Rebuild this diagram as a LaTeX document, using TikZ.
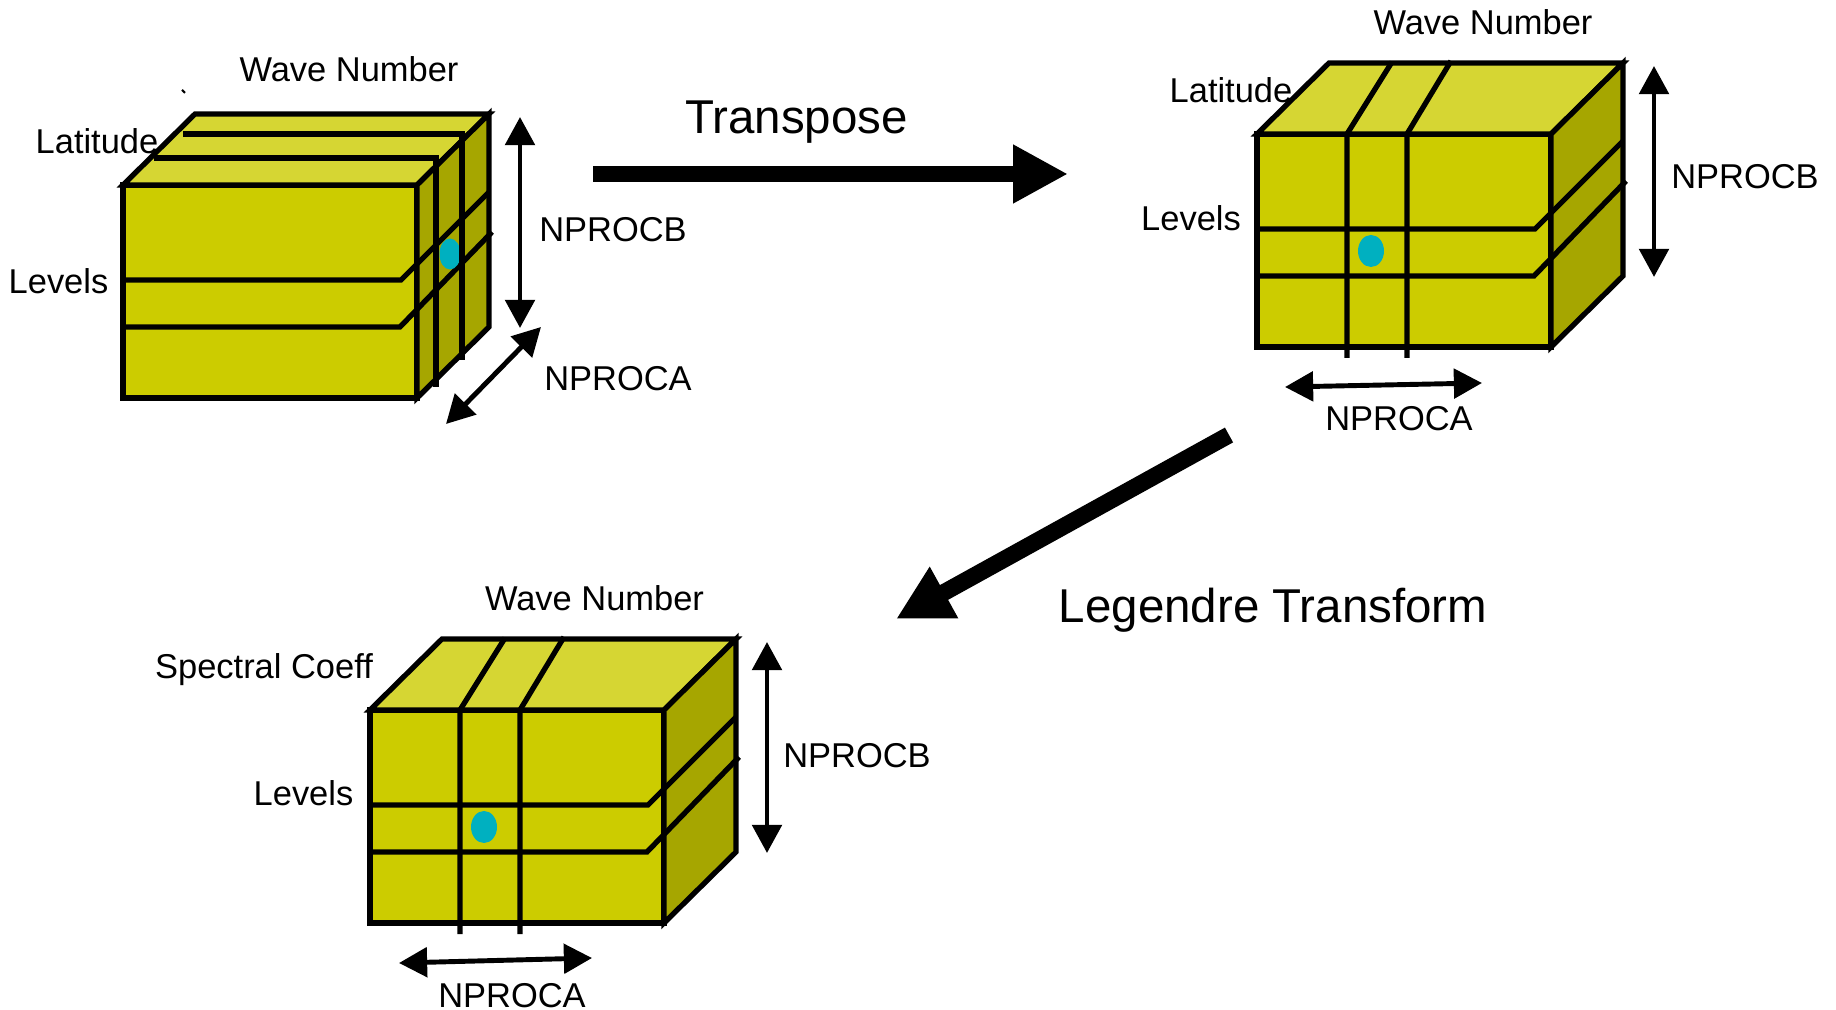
\documentclass[tikz,border=0pt]{standalone}
\usepackage{fontspec}
\setmainfont{Liberation Sans}
\usetikzlibrary{positioning,arrows.meta}

\definecolor{boxfront}{RGB}{204,204,0}
\definecolor{boxtop}{RGB}{214,214,51}
\definecolor{boxside}{RGB}{166,166,0}
\definecolor{procdot}{RGB}{0,176,192}

\begin{document}
\begin{tikzpicture}[x=0.01cm, y=-0.01cm,
        lbl/.style = {font=\fontsize{9.8}{11}\selectfont, inner sep=0pt, text height=7pt, text depth=0pt},
        steplabel/.style = {font=\fontsize{13.5}{16}\selectfont, inner sep=0pt, text height=9.7pt, text depth=0pt},
        boxedge/.style = {draw=black, line width=1.5pt, line join=miter},
        slice/.style = {line width=1.5pt},
        nproc/.style = {line width=1.4pt, {Triangle[length=8pt, width=8.3pt]}-{Triangle[length=8pt, width=8.3pt]}},
        bigarrow/.style = {line width=4.8pt, -{Triangle[length=15.6pt, width=15.6pt]}},
        % one processor block: front, top and side faces plus the two level cuts
        databox/.pic = {
            \filldraw[fill=boxfront, boxedge] (0,0) rectangle (294,213);
            \filldraw[fill=boxtop, boxedge] (0,0) -- (72,-71) -- (366,-71) -- (294,0) -- cycle;
            \filldraw[fill=boxside, boxedge] (294,0) -- (366,-71) -- (366,142) -- (294,213) -- cycle;
            \draw[slice] (0,95) -- (278,95) -- (366,7);
            \draw[slice] (-3,142) -- (277,142) -- (369,47);
            \coordinate (-btop) at (397,-68);
            \coordinate (-bbot) at (397,143);
        },
    ]
    \useasboundingbox (0,0) rectangle (1836,1010);

    % grid point space, split over latitudes
    \pic (c1) at (123,185) {databox};
    \begin{scope}[shift={(123,185)}]
        \fill[procdot] (327,69) ellipse [x radius=10.5, y radius=15.5];
        \draw[slice] (60,-51) -- (339,-51) -- (339,175);
        \draw[slice] (31,-27) -- (313,-27) -- (313,202);
    \end{scope}
    \draw[line width=0.6pt] (182,90) -- (185,93);

    % fourier space
    \pic (c2) at (1257,134) {databox};
    \begin{scope}[shift={(1257,134)}]
        \fill[procdot] (114,117) ellipse [x radius=13, y radius=16];
        \draw[slice] (135,-72) -- (90,0) -- (90,224);
        \draw[slice] (194,-73) -- (150,0) -- (150,224);
    \end{scope}

    % spectral space
    \pic (c3) at (370,710) {databox};
    \begin{scope}[shift={(370,710)}]
        \fill[procdot] (114,117) ellipse [x radius=13, y radius=16];
        \draw[slice] (135,-72) -- (90,0) -- (90,224);
        \draw[slice] (194,-73) -- (150,0) -- (150,224);
    \end{scope}

    % processor extents
    \coordinate (a1s) at (446,424);
    \coordinate (a1e) at (541,327);
    \coordinate (a2s) at (1285,387);
    \coordinate (a2e) at (1482,383);
    \coordinate (a3s) at (399,963);
    \coordinate (a3e) at (592,958);
    \draw[nproc] (c1-btop) -- (c1-bbot);
    \draw[nproc] (c2-btop) -- (c2-bbot);
    \draw[nproc] (c3-btop) -- (c3-bbot);
    \draw[nproc] (a1s) -- (a1e);
    \draw[nproc] (a2s) -- (a2e);
    \draw[nproc] (a3s) -- (a3e);

    % transform steps
    \coordinate (ts) at (593,174);
    \coordinate (te) at (1068,174);
    \coordinate (ls) at (1229,435);
    \coordinate (le) at (896,619);
    \draw[bigarrow] (ts) -- (te);
    \draw[bigarrow] (ls) -- (le);

    \node[steplabel] (transpose) at (796.5,116.5) {Transpose};
    \node[steplabel] (legendre) at (1273,605) {Legendre Transform};

    \node[lbl] (wave1) at (349,69) {Wave Number};
    \node[lbl] (lat1) at (97,141) {Latitude};
    \node[lbl] (lev1) at (58.5,281.5) {Levels};
    \node[lbl] (pb1) at (613,229) {NPROCB};
    \node[lbl] (pa1) at (618,378) {NPROCA};

    \node[lbl] (wave2) at (1483,22.5) {Wave Number};
    \node[lbl] (lat2) at (1231,90) {Latitude};
    \node[lbl] (lev2) at (1191,218.5) {Levels};
    \node[lbl] (pb2) at (1745,176.5) {NPROCB};
    \node[lbl] (pa2) at (1399,418.5) {NPROCA};

    \node[lbl] (wave3) at (594.5,598.5) {Wave Number};
    \node[lbl] (spec3) at (264,666.5) {Spectral Coeff};
    \node[lbl] (lev3) at (303.5,793.5) {Levels};
    \node[lbl] (pb3) at (857,755) {NPROCB};
    \node[lbl] (pa3) at (512,995) {NPROCA};
\end{tikzpicture}
\end{document}
